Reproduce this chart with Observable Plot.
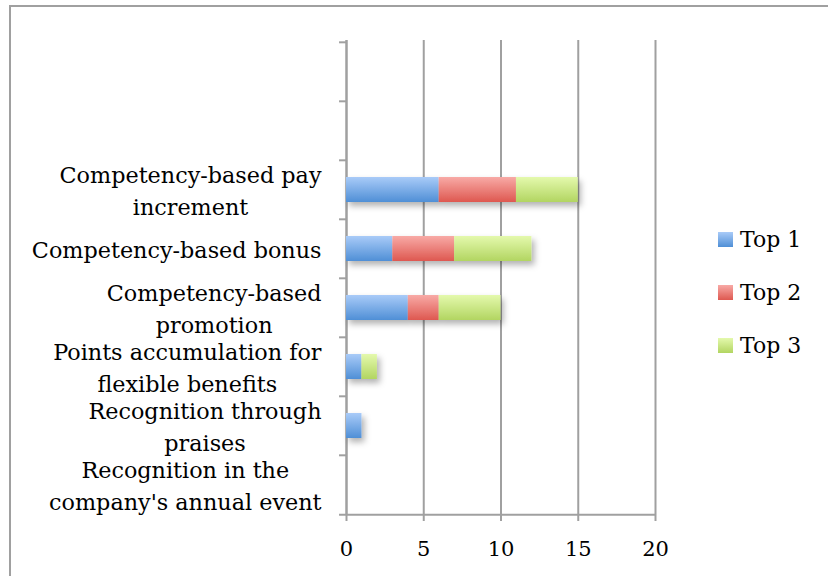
<!DOCTYPE html>
<html><head><meta charset="utf-8">
<script src="https://cdn.jsdelivr.net/npm/d3@7"></script>
<script src="https://cdn.jsdelivr.net/npm/@observablehq/plot@0.6"></script>
<style>
body{margin:0;background:#fff;}
#wrap{position:relative;width:828px;height:576px;overflow:hidden;font-family:"DejaVu Serif",serif;background:#fff;}
#frame{position:absolute;left:9px;top:5px;width:900px;height:700px;border-left:2px solid #a0a0a0;border-top:2px solid #a0a0a0;}
#chart{position:absolute;left:0;top:0;}
.leg{position:absolute;left:718px;font-size:22px;color:#000;display:flex;align-items:center;}
.sw{width:15px;height:15px;margin-right:7px;}
</style></head>
<body>
<div id="wrap"><div id="frame"></div><div id="chart"></div><div id="legend"></div></div>
<script>
const categories = ["Competency-based pay increment","Competency-based bonus","Competency-based promotion","Points accumulation for flexible benefits","Recognition through praises","Recognition in the company's annual event"];
const labelLines = [["Competency-based pay","increment"],["Competency-based bonus"],["Competency-based","promotion"],["Points accumulation for","flexible benefits"],["Recognition through","praises"],["Recognition in the","company's annual event"]];
const emptySlots = ["empty1","empty2"];
const series = ["Top 1","Top 2","Top 3"];
const top1 = [6,3,4,1,1,0];
const top2 = [5,4,2,0,0,0];
const top3 = [4,5,4,1,0,0];
const xTicks = [0,5,10,15,20];
const gradTop = ["#a9cbf8","#f8aaa6","#e4f9ad"];
const gradBot = ["#4f8fd6","#de5850","#b2d561"];

const rows = [];
categories.forEach((c,i)=>{
  [top1,top2,top3].forEach((arr,k)=>{ if(arr[i]>0) rows.push({cat:c, series:series[k], value:arr[i]}); });
});
const yDomain = [...emptySlots, ...categories];

const W=828,H=576,mL=346,mR=173,mT=40,mB=61;
const step = (H-mT-mB)/yDomain.length;
const fontSize = 22.3;
const cv = document.createElement("canvas").getContext("2d");
cv.font = `${fontSize}px "DejaVu Serif"`;

const labelMarks = categories.map((c,i)=>{
  const w = d3.max(labelLines[i], s=>cv.measureText(s).width);
  return Plot.text([c], {y:d=>d, text:()=>labelLines[i].join("\n"), frameAnchor:"left", textAnchor:"middle",
    dx:-25 - w/2, dy:-1, lineHeight:1.42, fontSize, fill:"#000"});
});

const gray="#a0a0a0";
const svg = Plot.plot({
  width:W, height:H, marginLeft:mL, marginRight:mR, marginTop:mT, marginBottom:mB,
  style:{fontFamily:'"DejaVu Serif", serif', fontSize:"21px", color:"#000", background:"transparent"},
  x:{domain:[0,20], ticks:xTicks, label:null},
  y:{domain:yDomain, padding:0, axis:null, label:null},
  color:{domain:series, range:series.map((s,i)=>`url(#g${i})`)},
  marks:[
    Plot.gridX(xTicks,{stroke:gray, strokeOpacity:1, strokeWidth:2}),
    Plot.ruleX([0],{stroke:gray, strokeWidth:2}),
    Plot.ruleY(yDomain,{y:d=>d, x1:-0.45, x2:0, dy:-step/2, stroke:gray, strokeWidth:2}),
    Plot.ruleY([yDomain[yDomain.length-1]],{y:d=>d, x1:-0.45, x2:20, dy:step/2, stroke:gray, strokeWidth:2}),
    Plot.axisX({ticks:xTicks, tickSize:6, tickPadding:20, stroke:gray, strokeWidth:2, fontSize:21, fill:"#000", label:null}),
    Plot.barX(rows, Plot.stackX({y:"cat", x:"value", fill:"series", order:series, insetTop:17, insetBottom:17})),
    ...labelMarks
  ]
});
const ns="http://www.w3.org/2000/svg";
const defs=document.createElementNS(ns,"defs");
defs.innerHTML = series.map((s,i)=>`<linearGradient id="g${i}" x1="0" y1="0" x2="0" y2="1"><stop offset="0" stop-color="${gradTop[i]}"/><stop offset="1" stop-color="${gradBot[i]}"/></linearGradient>`).join("")
 + `<filter id="shadow" x="-10%" y="-30%" width="130%" height="190%"><feDropShadow dx="3" dy="4" stdDeviation="3" flood-color="#000" flood-opacity="0.3"/></filter>`;
svg.insertBefore(defs, svg.firstChild);
const barG = svg.querySelector('g[aria-label="bar"]');
if(barG) barG.setAttribute("filter","url(#shadow)");
document.getElementById("chart").appendChild(svg);

const legend=document.getElementById("legend");
const legTops=[227,280,333];
series.forEach((s,i)=>{
  const d=document.createElement("div"); d.className="leg"; d.style.top=legTops[i]+"px";
  const sw=document.createElement("div"); sw.className="sw"; sw.style.background=`linear-gradient(${gradTop[i]},${gradBot[i]})`;
  const t=document.createElement("span"); t.textContent=s;
  d.appendChild(sw); d.appendChild(t); legend.appendChild(d);
});
</script>
</body></html>
